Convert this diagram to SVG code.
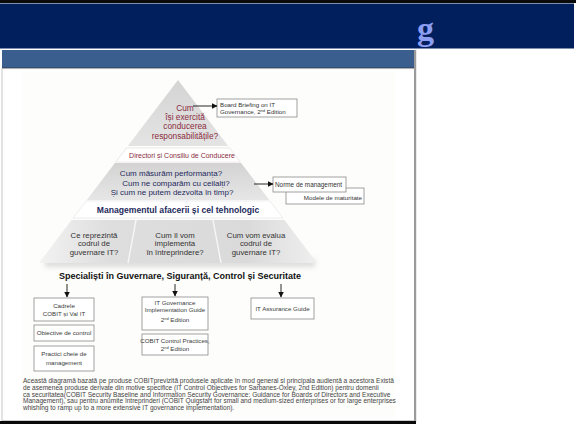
<svg xmlns="http://www.w3.org/2000/svg" width="576" height="424" viewBox="0 0 576 424">
<style>
  .sans{font-family:"Liberation Sans",Arial,sans-serif}
  .box{fill:#ffffff;stroke:#8a8a8a;stroke-width:0.8}
  .bt{font-family:"Liberation Sans",Arial,sans-serif;font-size:6.2px;fill:#3a3a3a;text-anchor:middle}
  .red{font-family:"Liberation Sans",Arial,sans-serif;fill:#8a2b3c;text-anchor:middle}
  .navy{font-family:"Liberation Sans",Arial,sans-serif;fill:#1e2a5c;text-anchor:middle}
  .grey{font-family:"Liberation Sans",Arial,sans-serif;fill:#333333;text-anchor:middle;font-size:7.8px}
  .para{font-family:"Liberation Sans",Arial,sans-serif;font-size:6.55px;fill:#444444}
  .conn{stroke:#111111;stroke-width:0.9;fill:none}
</style>
<defs>
  <marker id="ah" viewBox="0 0 6 6" refX="5.5" refY="3" markerWidth="6" markerHeight="6" markerUnits="userSpaceOnUse" orient="auto">
    <path d="M0,0 L6,3 L0,6 z" fill="#111111"/>
  </marker>
  <linearGradient id="g1" x1="0" y1="0" x2="0" y2="1">
    <stop offset="0" stop-color="#d4d4d4"/>
    <stop offset="1" stop-color="#e4e4e4"/>
  </linearGradient>
  <linearGradient id="g2" x1="0" y1="0" x2="0" y2="1">
    <stop offset="0" stop-color="#d3d3d3"/>
    <stop offset="1" stop-color="#e6e6e6"/>
  </linearGradient>
  <linearGradient id="g3" x1="0" y1="0" x2="1" y2="0">
    <stop offset="0" stop-color="#f2f2f2"/>
    <stop offset="0.25" stop-color="#dedede"/>
    <stop offset="0.75" stop-color="#dadada"/>
    <stop offset="1" stop-color="#efefef"/>
  </linearGradient>
  <filter id="blur" x="-10%" y="-100%" width="120%" height="300%">
    <feGaussianBlur stdDeviation="2.5"/>
  </filter>
</defs>

<!-- frame -->
<g id="frame">
  <rect x="0" y="0" width="576" height="424" fill="#ffffff"/>
  <rect x="0" y="0" width="576" height="3" fill="#0a0a0a"/>
  <rect x="0" y="3.5" width="574" height="45" fill="#001f5c"/>
  <text x="417" y="40" font-family="Liberation Serif,serif" font-weight="bold" font-size="34" fill="#8c9ef2">g</text>
  <rect x="2" y="50" width="413" height="18" fill="#3a5f8f"/>
  <rect x="2" y="67.5" width="413" height="1.2" fill="#2a3a55"/>
  <rect x="2" y="68.7" width="413" height="352" fill="#ffffff" stroke="#b8b8b8" stroke-width="0.8"/>
  <rect x="414" y="50" width="2.2" height="372" fill="#9a9a9a"/>
  <rect x="22" y="72" width="373" height="346" fill="#fdfdfb"/>
  <rect x="0" y="421" width="416" height="3" fill="#0a0a0a"/>
</g>

<!-- pyramid -->
<g id="tier1">
  <polygon points="178,80 228.2,146 127.8,146" fill="url(#g1)"/>
  <text class="red" font-size="8.3" x="185" y="111">Cum</text>
  <text class="red" font-size="8.3" x="185" y="120">își exercită</text>
  <text class="red" font-size="8.3" x="185" y="129">conducerea</text>
  <text class="red" font-size="8.3" x="185" y="138.5">responsabilitățile?</text>
</g>
<g id="band1">
  <polygon points="126.5,148 229.5,148 240.3,162 115.7,162" fill="#ffffff" stroke="#e2dada" stroke-width="0.6"/>
  <text class="red" font-size="7" x="182" y="157.5">Directori și Consiliu de Conducere</text>
</g>
<g id="tier2">
  <polygon points="114.9,163 241.1,163 269.2,200 86.8,200" fill="url(#g2)"/>
  <text class="navy" font-size="8" x="171" y="176">Cum măsurăm performanța?</text>
  <text class="navy" font-size="8" x="176" y="185.5">Cum ne comparăm cu ceilalți?</text>
  <text class="navy" font-size="8" x="172" y="195">Și cum ne putem dezvolta în timp?</text>
</g>
<g id="band2">
  <polygon points="86,201 270,201 282.9,218 73.1,218" fill="#ffffff" stroke="#e0e0e6" stroke-width="0.6"/>
  <text class="navy" font-size="8.6" font-weight="bold" fill="#1a1f6b" x="178" y="212.5">Managementul afacerii și cel tehnologic</text>
</g>
<g id="tier3">
  <rect x="45" y="259" width="270" height="8" fill="#cfcfcf" filter="url(#blur)" opacity="0.7"/>
  <polygon points="71.6,220 284.4,220 317,263 39,263" fill="url(#g3)"/>
  <line x1="136" y1="220" x2="128" y2="263" stroke="#f6f6f6" stroke-width="1.4"/>
  <line x1="213" y1="220" x2="221" y2="263" stroke="#f6f6f6" stroke-width="1.4"/>
  <text class="grey" x="94" y="237.5">Ce reprezintă</text>
  <text class="grey" x="94" y="246">codrul de</text>
  <text class="grey" x="94" y="254.5">guvernare IT?</text>
  <text class="grey" x="175" y="237.5">Cum îl vom</text>
  <text class="grey" x="175" y="246">implementa</text>
  <text class="grey" x="175" y="254.5">în întreprindere?</text>
  <text class="grey" x="256" y="237.5">Cum vom evalua</text>
  <text class="grey" x="256" y="246">codrul de</text>
  <text class="grey" x="256" y="254.5">guvernare IT?</text>
</g>
<g id="specialists">
  <text class="sans" font-size="9" font-weight="bold" fill="#111111" text-anchor="middle" x="180" y="278.5">Specialiști în Guvernare, Siguranță, Control și Securitate</text>
</g>

<!-- side boxes -->
<g id="board-briefing">
  <rect class="box" x="217" y="99" width="80" height="18"/>
  <text class="sans" font-size="6.2" fill="#333333" x="220" y="106.5">Board Briefing on IT</text>
  <text class="sans" font-size="6.2" fill="#333333" x="220" y="114">Governance, 2<tspan font-size="4" dy="-2">nd</tspan><tspan dy="2"> Edition</tspan></text>
</g>
<g id="modele">
  <rect class="box" x="286" y="188" width="78" height="16"/>
  <text class="sans" font-size="6.2" fill="#333333" text-anchor="end" x="362" y="200">Modele de maturitate</text>
</g>
<g id="norme">
  <rect class="box" x="273" y="177" width="73" height="15"/>
  <text class="sans" font-size="6.4" fill="#333333" x="275" y="187">Norme de management</text>
</g>

<!-- bottom boxes -->
<g id="cadrele">
  <rect class="box" x="34" y="298" width="60" height="23"/>
  <text class="bt" x="64" y="307.5">Cadrele</text>
  <text class="bt" x="64" y="315.5">COBIT și Val IT</text>
</g>
<g id="obiective">
  <rect class="box" x="34" y="325" width="60" height="16"/>
  <text class="bt" x="64" y="335">Obiective de control</text>
</g>
<g id="practici">
  <rect class="box" x="34" y="346" width="60" height="25"/>
  <text class="bt" x="64" y="356">Practici cheie de</text>
  <text class="bt" x="64" y="364.5">management</text>
</g>
<g id="itgov">
  <rect class="box" x="142" y="297" width="66" height="33"/>
  <text class="bt" x="175" y="304.5">IT Governance</text>
  <text class="bt" x="175" y="311.5">Implementation Guide</text>
  <text class="bt" x="175" y="322">2<tspan font-size="4" dy="-2">nd</tspan><tspan dy="2"> Edition</tspan></text>
</g>
<g id="cobitcp">
  <rect class="box" x="142" y="334" width="66" height="21"/>
  <text class="bt" x="175" y="342.5">COBIT Control Practices,</text>
  <text class="bt" x="175" y="350.5">2<tspan font-size="4" dy="-2">nd</tspan><tspan dy="2"> Edition</tspan></text>
</g>
<g id="assurance">
  <rect class="box" x="251" y="298" width="63" height="21"/>
  <text class="bt" x="282.5" y="311">IT Assurance Guide</text>
</g>

<!-- connectors -->
<g id="connectors">
  <line class="conn" x1="193" y1="106" x2="217" y2="106" marker-end="url(#ah)"/>
  <line class="conn" x1="254" y1="184" x2="273" y2="184" marker-end="url(#ah)"/>
  <line class="conn" x1="67" y1="284" x2="67" y2="297" marker-end="url(#ah)"/>
  <line class="conn" x1="175" y1="284" x2="175" y2="296" marker-end="url(#ah)"/>
  <line class="conn" x1="281" y1="284" x2="281" y2="297" marker-end="url(#ah)"/>
</g>

<!-- note -->
<g id="note">
  <text class="para" x="23" y="383">Această diagramă bazată pe produse COBITprevizită produsele aplicate în mod general și principala audiență a acestora Există</text>
  <text class="para" x="23" y="389.8">de asemenea produse derivate din motive specifice (IT Control Objectives for Sarbanes-Oxley, 2nd Edition) pentru domenii</text>
  <text class="para" x="23" y="396.6">ca securitatea(COBIT Security Baseline and Information Security Governance: Guidance for Boards of Directors and Executive</text>
  <text class="para" x="23" y="403.4">Management), sau pentru anumite întreprinderi (COBIT Quigstart for small and medium-sized enterprises or for large enterprises</text>
  <text class="para" x="23" y="410.2">whishing to ramp up to a more extensive IT governance implementation).</text>
</g>
</svg>
